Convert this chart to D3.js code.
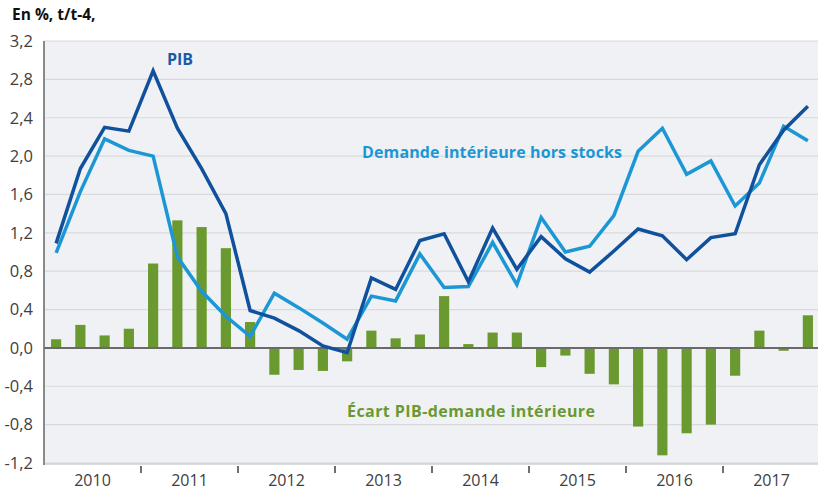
<!DOCTYPE html>
<html><head><meta charset="utf-8">
<script src="https://cdn.jsdelivr.net/npm/d3@7"></script>
<style>body{margin:0;background:#fff;}svg{display:block;font-family:"Open Sans",sans-serif;}</style>
</head><body><svg id="c" width="818" height="491"></svg>
<script>
const years = ["2010","2011","2012","2013","2014","2015","2016","2017"];
const quarters = d3.range(32);
const pib = [1.09,1.87,2.30,2.26,2.89,2.29,1.87,1.40,0.39,0.31,0.18,0.02,-0.05,0.73,0.61,1.12,1.19,0.69,1.25,0.82,1.16,0.93,0.79,1.01,1.24,1.17,0.92,1.15,1.19,1.91,2.27,2.52];
const demande = [0.99,1.63,2.18,2.06,2.00,0.95,0.59,0.33,0.12,0.57,0.42,0.26,0.09,0.54,0.49,0.98,0.63,0.64,1.10,0.66,1.36,1.00,1.06,1.38,2.05,2.29,1.81,1.95,1.48,1.72,2.31,2.16];
const ecart = [0.09,0.24,0.13,0.20,0.88,1.33,1.26,1.04,0.27,-0.28,-0.23,-0.24,-0.14,0.18,0.10,0.14,0.54,0.04,0.16,0.16,-0.20,-0.08,-0.27,-0.38,-0.82,-1.12,-0.89,-0.80,-0.29,0.18,-0.03,0.34];
const yTicks = [-1.2,-0.8,-0.4,0,0.4,0.8,1.2,1.6,2.0,2.4,2.8,3.2];

const svg = d3.select("#c");
const L = 44, R = 820, T = 41, B = 463;
const x = d3.scaleBand().domain(quarters).range([L, R]).paddingInner(0.58).paddingOuter(0.29);
const xc = i => x(i) + x.bandwidth()/2;
const xYear = d3.scaleBand().domain(years).range([L, R]);
const y = d3.scaleLinear().domain([-1.2, 3.2]).range([B, T]);
const fmt = v => d3.format(".1f")(v).replace(".", ",").replace("−","-");

svg.append("rect").attr("x", L).attr("y", T).attr("width", 818 - L).attr("height", B - T + 1).attr("fill", "#f0f1f4");

svg.append("g").selectAll("line").data(yTicks.filter(v => v !== 0)).join("line")
  .attr("x1", L).attr("x2", 818).attr("y1", d => y(d)).attr("y2", d => y(d))
  .attr("stroke", "#d9dadd").attr("stroke-width", 1.2);

svg.append("line").attr("x1", L).attr("x2", 818).attr("y1", B + 1).attr("y2", B + 1).attr("stroke", "#cfd0d3").attr("stroke-width", 1.5);

const yAxis = d3.axisLeft(y).tickValues(yTicks).tickFormat(fmt).tickSize(0).tickPadding(11);
const gy = svg.append("g").attr("transform", `translate(${L},0)`).call(yAxis);
gy.select(".domain").remove();
gy.selectAll("text").attr("font-size", 16.5).attr("fill", "#404040").attr("font-family", "'Open Sans',sans-serif");
svg.append("line").attr("x1", L).attr("x2", L).attr("y1", T).attr("y2", B + 2).attr("stroke", "#8a8a8a").attr("stroke-width", 2);

const xAxis = d3.axisBottom(xYear).tickSize(0).tickPadding(11);
const gx = svg.append("g").attr("transform", `translate(0,${B + 1})`).call(xAxis);
gx.select(".domain").remove();
gx.selectAll("text").attr("font-size", 16).attr("fill", "#404040").attr("font-family", "'Open Sans',sans-serif");
svg.append("g").selectAll("line").data(years.slice(1)).join("line")
  .attr("x1", d => xYear(d)).attr("x2", d => xYear(d)).attr("y1", B + 3).attr("y2", B + 10)
  .attr("stroke", "#707070").attr("stroke-width", 2);

svg.append("g").selectAll("rect").data(ecart).join("rect")
  .attr("x", (d, i) => x(i)).attr("width", x.bandwidth())
  .attr("y", d => y(Math.max(0, d))).attr("height", d => Math.abs(y(d) - y(0)))
  .attr("fill", "#6a9a2f");

svg.append("line").attr("x1", L).attr("x2", 818).attr("y1", y(0)).attr("y2", y(0)).attr("stroke", "#6a6a6a").attr("stroke-width", 2);

const line = d3.line().x((d, i) => xc(i)).y(d => y(d));
svg.append("path").datum(demande).attr("d", line).attr("fill", "none").attr("stroke", "#1b97d5").attr("stroke-width", 3.5).attr("stroke-linejoin", "miter");
svg.append("path").datum(pib).attr("d", line).attr("fill", "none").attr("stroke", "#0f519d").attr("stroke-width", 3.5).attr("stroke-linejoin", "miter");

svg.append("text").attr("x", 12).attr("y", 20).text("En %, t/t-4,").attr("font-size", 15.5).attr("font-weight", "bold").attr("fill", "#111");
svg.append("text").attr("x", 167).attr("y", 65).text("PIB").attr("font-size", 16).attr("font-weight", "bold").attr("fill", "#1a5ba6");
svg.append("text").attr("x", 362).attr("y", 158).text("Demande intérieure hors stocks").attr("font-size", 16).attr("font-weight", "bold").attr("fill", "#1b97d5").attr("textLength", 260);
svg.append("text").attr("x", 347).attr("y", 417).text("Écart PIB-demande intérieure").attr("font-size", 16).attr("font-weight", "bold").attr("fill", "#6a9a2f").attr("textLength", 248);
</script></body></html>
